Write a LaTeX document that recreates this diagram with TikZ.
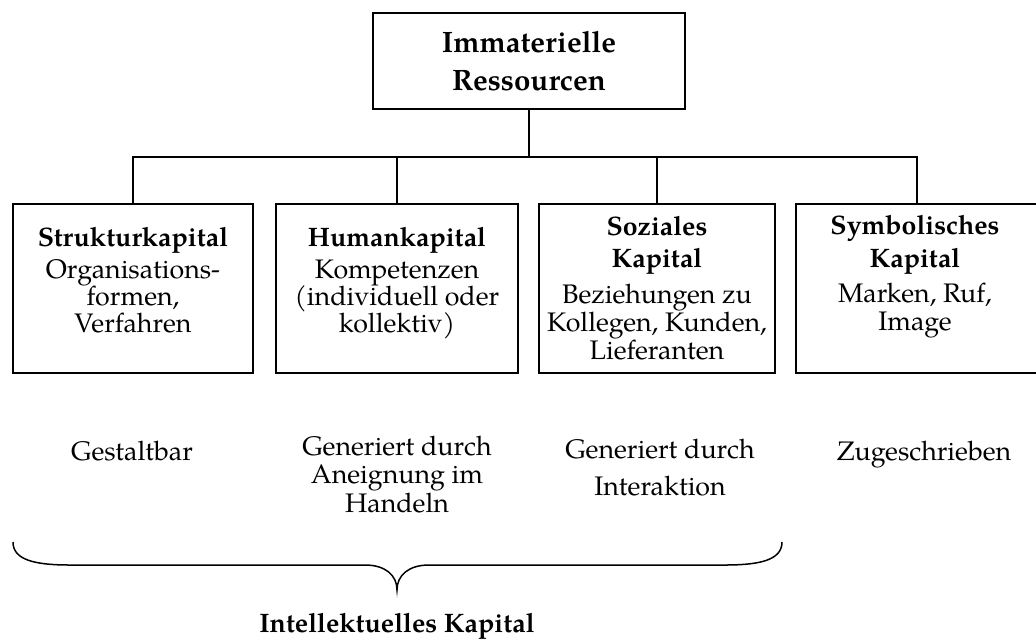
\documentclass[tikz,border=0pt]{standalone}
\usepackage{fontspec}
\setmainfont{texgyrepagella}[Extension=.otf, UprightFont=*-regular, BoldFont=*-bold, ItalicFont=*-italic, BoldItalicFont=*-bolditalic]
\begin{document}
\begin{tikzpicture}[x=1pt, y=-1pt,
  line width=1.4pt,
  box/.style={draw, line width=1.4pt, inner sep=0pt, minimum width=#1, minimum height=169pt},
  hd/.style={anchor=base, inner sep=0pt, font=\fontsize{26.7}{28}\selectfont\bfseries},
  bighd/.style={anchor=base, inner sep=0pt, font=\fontsize{29.5}{32}\selectfont\bfseries},
  tx/.style={anchor=base, inner sep=0pt, font=\fontsize{26.8}{28}\selectfont}]
\useasboundingbox (0,0) rectangle (1036,641);
\clip (0,0) rectangle (1036,641);

% top node
\node[draw, line width=1.4pt, minimum width=312pt, minimum height=96pt] (top) at (529,61) {};
\node[bighd] (t1) at (529,52) {Immaterielle};
\node[bighd] (t2) at (529,90) {Ressourcen};

% the four kinds of capital
\node[box=240pt] (s1) at (133,288.5) {};
\node[box=242pt] (s2) at (397,288.5) {};
\node[box=236pt] (s3) at (657,288.5) {};
\node[box=242pt] (s4) at (917,288.5) {};

\node[hd] (a1) at (133,246) {Strukturkapital};
\node[tx] (a2) at (133,278) {Organisations-};
\node[tx] (a3) at (133,305) {formen,};
\node[tx] (a4) at (133,332) {Verfahren};

\node[hd] (b1) at (397,246) {Humankapital};
\node[tx] (b2) at (397,278) {Kompetenzen};
\node[tx] (b3) at (397,305) {(individuell oder};
\node[tx] (b4) at (397,332) {kollektiv)};

\node[hd] (c1) at (657,235) {Soziales};
\node[hd] (c2) at (657,267) {Kapital};
\node[tx] (c3) at (657,303) {Beziehungen zu};
\node[tx] (c4) at (657,331) {Kollegen, Kunden,};
\node[tx] (c5) at (657,359) {Lieferanten};

\node[hd] (d1) at (915,234) {Symbolisches};
\node[hd] (d2) at (915,267) {Kapital};
\node[tx] (d3) at (915,302) {Marken, Ruf,};
\node[tx] (d4) at (915,330) {Image};

% tree connectors
\coordinate (hub) at (529,157);
\draw (top.south) -- (hub);
\draw (s1.north) -- (s1.north |- hub) -- (s4.north |- hub) -- (s4.north);
\draw (s2.north) -- (s2.north |- hub);
\draw (s3.north) -- (s3.north |- hub);

% characteristics
\node[tx] (e1) at (132,460) {Gestaltbar};
\node[tx] (f1) at (397,455) {Generiert durch};
\node[tx] (f2) at (397,483) {Aneignung im};
\node[tx] (f3) at (397,512) {Handeln};
\node[tx] (g1) at (660,458) {Generiert durch};
\node[tx] (g2) at (660,495) {Interaktion};
\node[tx] (h1) at (924,460) {Zugeschrieben};

% brace over the first three kinds
\coordinate (bl) at (13,542);
\coordinate (br) at (782,542);
\coordinate (tip) at (397,590);
\draw[line width=1.5pt] (bl) .. controls (13,560) and (35,565) .. (70,565) -- (365,565)
  .. controls (385,565) and (397,575) .. (tip)
  .. controls (397,575) and (409,565) .. (429,565) -- (725,565)
  .. controls (760,565) and (782,560) .. (br);

\node[hd] (ik) at (397,632) {Intellektuelles Kapital};
\end{tikzpicture}
\end{document}
